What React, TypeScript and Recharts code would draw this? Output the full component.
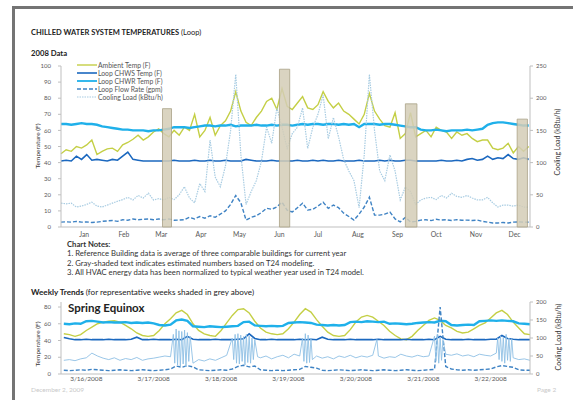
import { LineChart, Line, XAxis, YAxis, ReferenceArea } from "recharts";

const FONT = "Lato, 'Liberation Sans', Arial, sans-serif";

// 2008 loop data, every 4th day of the year
const YEAR_DAYS = [
  0, 4, 8, 12, 16, 20, 24, 28, 32, 36, 40, 44, 48, 52, 56, 60, 64, 68, 72, 76,
  80, 84, 88, 92, 96, 100, 104, 108, 112, 116, 120, 124, 128, 132, 136, 140, 144, 148, 152, 156,
  160, 164, 168, 172, 176, 180, 184, 188, 192, 196, 200, 204, 208, 212, 216, 220, 224, 228, 232, 236,
  240, 244, 248, 252, 256, 260, 264, 268, 272, 276, 280, 284, 288, 292, 296, 300, 304, 308, 312, 316,
  320, 324, 328, 332, 336, 340, 344, 348, 352, 356, 360, 364,
];
const AMBIENT_F = [
  45.5, 48, 47, 50, 49, 51, 54, 45, 47, 48.5,
  49, 47, 51, 52.5, 54.5, 57, 54, 56, 59, 61,
  58, 56, 60, 57, 62, 60, 70, 56, 60, 68,
  57, 63, 66, 72, 84, 72, 65, 63, 68, 72,
  78, 80, 73, 86, 75, 73, 77, 81, 74, 73,
  76, 84, 78, 74, 77, 72, 70, 67, 64, 70,
  83, 72, 67, 63, 62, 71, 55, 58, 71, 56,
  58, 60, 56, 62, 60, 59, 55, 59, 57, 58,
  55, 53, 54, 54, 49, 48, 49, 52, 46, 50,
  47, 50,
];
const CHWS_F = [
  41, 41.5, 41, 44, 42, 45, 41.5, 42, 41.5, 41,
  42, 41.5, 44, 46.5, 42, 41.5, 41, 41, 41, 41,
  41, 41, 41.5, 41, 41, 41, 41.5, 41, 41, 41.5,
  41, 41, 41.5, 41, 41, 41, 42, 41.5, 41, 41,
  41, 41.5, 41, 41, 41, 41, 41.5, 41, 41, 41.5,
  41, 41.5, 41, 41, 41.5, 41, 41, 41, 41.5, 41,
  41, 41, 41.5, 41, 41.5, 41, 41, 41.5, 41.5, 41,
  41, 41, 41, 41, 41.5, 41, 41, 41.5, 41, 42,
  42.5, 41.5, 42, 44, 42, 43, 42.5, 45, 42.5, 42,
  43, 42,
];
const CHWR_F = [
  64, 64, 63.5, 64, 64.5, 64, 64, 63.5, 62.5, 62,
  61.5, 61, 60.5, 60.5, 60, 60, 60, 59.5, 60, 60,
  60.5, 61, 62, 62, 62, 61.5, 62, 62.5, 63, 63,
  62.5, 63, 63, 63.5, 62.5, 63, 63, 63, 63.5, 63,
  63, 63.5, 63, 63.5, 63.5, 63, 63.5, 64, 63.5, 64,
  64, 63.5, 64, 64, 63.5, 64, 63.5, 64, 62, 64,
  64, 64, 63.5, 64, 64, 63.5, 63, 62.5, 62, 62,
  60.5, 60, 60, 60.5, 60, 59.5, 60, 60, 60, 60.5,
  60, 60.5, 61, 63.5, 64.5, 65, 65, 64.5, 64, 63.5,
  63, 63,
];
const FLOW_GPM = [
  3, 3.2, 3, 3.5, 3, 3.2, 2.8, 3, 3.5, 3.8,
  4, 3.5, 4.5, 4.2, 5, 4.5, 4.8, 5, 4.5, 5,
  4.5, 5, 4.2, 4.3, 4.5, 6, 5, 6.5, 5.5, 7,
  6, 8, 10, 14, 19.6, 15, 4.3, 6, 7, 9,
  11.6, 11, 12.5, 15.4, 10.5, 9.3, 12, 14.8, 10.5, 11,
  13, 15.4, 11.6, 13.6, 12, 8.6, 6.5, 4.3, 8, 12.4,
  18.5, 7.4, 7.4, 8, 9.3, 5, 3.2, 6, 3.2, 3.5,
  4.3, 4.5, 4, 4.8, 4.3, 4.5, 4, 4.6, 4.2, 4.3,
  4, 4.3, 3.5, 3, 2.5, 2.5, 2.8, 2.5, 3, 3.2,
  3, 3,
];
const LOAD_KBTU = [
  37, 36, 37, 31, 32.5, 35, 38.5, 32.5, 31, 34,
  37, 40, 42.5, 46, 42, 49, 45, 52.5, 42, 44,
  42, 46, 42.5, 50, 62.5, 45, 37.5, 67.5, 55, 135,
  77.5, 62.5, 95, 150, 237, 112, 35, 55, 72, 102,
  155, 130, 185, 155, 122, 145, 155, 185, 122, 155,
  175, 205, 137, 170, 140, 105, 87, 72, 30, 112,
  237, 150, 87, 72, 112, 87, 42, 62, 55, 35,
  42, 45, 46, 42.5, 49, 45, 52.5, 47.5, 46, 49,
  45, 42, 42, 46, 37.5, 31, 34, 34, 32.5, 34,
  31, 31,
];

const MONTHS = ["Jan", "Feb", "Mar", "Apr", "May", "Jun", "Jul", "Aug", "Sep", "Oct", "Nov", "Dec"];
const MONTH_TICK_DAYS = [18, 49, 78, 109, 139, 170, 200, 231, 262, 292, 323, 353];

// representative weeks (shaded grey)
const WEEK_START = [79, 170, 268, 355];
const WEEK_END = [86, 178, 277, 363];
const WEEK_TOP = [73.5, 98, 76.5, 67];

// spring equinox week, hours from 3/16/2008 00:00
const WEEK_HOURS = [
  -8, -6, -4, -2, 0, 2, 4, 6, 8, 10, 12, 14, 16, 18, 20, 22, 24, 26, 28, 30,
  32, 34, 36, 38, 40, 42, 44, 46, 48, 50, 52, 54, 56, 58, 60, 62, 64, 66, 68, 70,
  72, 74, 76, 78, 80, 82, 84, 86, 88, 90, 92, 94, 96, 98, 100, 102, 104, 106, 108, 110,
  112, 114, 116, 118, 120, 122, 124, 126, 128, 130, 132, 134, 136, 138, 140, 142, 144, 146, 148, 150,
  152, 154, 156, 158,
];
const WK_AMBIENT = [
  48, 47, 45, 47, 52, 56, 60, 62, 63, 63.6,
  62, 58, 54, 49, 46, 45, 46, 52, 60, 66,
  73, 76, 71, 60, 52, 48, 46, 45, 52, 61,
  70, 77, 78, 73, 63, 55, 50, 48, 47, 48,
  54, 62, 71, 78, 74, 65, 57, 50, 46, 45,
  46, 53, 62, 68, 70, 68, 63, 58, 51, 46,
  42, 41, 45, 52, 58, 64, 67, 64, 58, 55,
  51, 49, 50, 54, 58, 61, 67, 73, 76, 71,
  62, 55, 48, 47,
];
const WK_CHWR = [
  60, 59.5, 60.5, 60,
  63, 63.5, 62.5, 61.5, 62, 61.5,
  61.5, 62, 61, 61.5, 61, 61.5, 60.5,
  58.5, 58, 59,
  64, 65, 63.5,
  57, 56.5, 56, 57, 56.5, 56, 56.5, 57, 57.5,
  62, 62.5,
  58, 57.5, 57, 57.5, 57, 57.5,
  61, 61.5, 62, 61.5, 61,
  59, 58.5, 58, 58.5, 58, 58.5,
  62, 62.5, 62, 63, 62.5, 62, 62.5,
  60, 60.5, 60, 59.5, 60,
  61, 61.5, 62, 61.5,
  63.5, 63,
  58.5, 58, 58.5, 59, 58.5,
  63, 63.5, 64, 63.5, 64, 63.5, 63,
  60.5, 60, 59.5,
];
const WK_CHWS = [
  43.5, 42, 41, 41, 41.5, 41, 41, 41, 41.5, 41,
  41, 41, 41.5, 44, 41, 41, 41.5, 41, 41, 41,
  41.5, 41, 45, 41.5, 41, 41, 41, 41.5, 41, 41,
  41, 41.5, 42, 48, 42.5, 41, 41, 41.5, 41, 41,
  41, 41, 41.5, 41, 41.5, 41, 44, 41.5, 41, 41,
  41, 41.5, 41, 41, 41, 41, 41.5, 41, 41, 41,
  41, 41.5, 41, 41, 41, 41.5, 41, 45, 41.5, 41,
  41, 41, 41.5, 41, 41, 41, 41.5, 41.5, 46, 42.5,
  41.5, 41, 41, 41,
];
const WK_FLOW = [
  4.5, 4, 4.5, 5, 4.5, 5.5, 5, 4.5, 4, 4.5, 5, 4.5, 4, 4.5, 5, 4.5, 4, 4.5, 5, 6,
  9.5, 8, 10, 8.5,
  5, 4.5, 4, 4.5, 5, 4.5, 6,
  9, 10.5, 8.5, 9.5,
  5, 4.5, 4, 4.5, 4, 4.5, 5, 5.5,
  9, 8, 7,
  4.5, 4, 4.5, 5, 4.5, 4, 4.5, 5, 4.5, 4, 4.5, 5, 4.5, 4, 4.5, 5, 4.5, 4, 4.5, 5, 5.5,
  80, 9,
  6, 5, 4.5, 5, 4.5, 5, 5.5, 6,
  8.5, 10, 9, 8,
  5, 4.5, 4.5,
];
const WK_LOAD_HOURS = [
  -8, -6, -4, -2, 0, 2, 4, 6, 8, 10, 12, 14, 16, 18, 20, 22, 24, 26, 28, 30,
  31, 31.5, 32, 32.5, 33, 33.5, 34, 34.5, 35, 35.5, 36, 36.5, 37,
  38, 40, 42, 44, 46, 48, 50,
  52, 52.5, 53, 53.5, 54, 54.5, 55, 55.5, 56, 56.5, 57, 57.5, 58, 58.5, 59, 59.5, 60,
  61, 62, 64, 66, 68, 70, 72, 74, 76,
  77, 77.5, 78, 78.5, 79, 79.5, 80, 80.5,
  82, 84, 86, 88, 90, 92, 94, 96, 98, 100, 102, 103.5, 104,
  106, 108, 110, 112, 114, 116, 118, 120, 122,
  124, 124.5, 125, 125.5, 126, 126.5, 127,
  128, 130, 132, 134, 136, 138, 140, 142, 144, 146,
  146.5, 147, 147.5, 148, 148.5, 149, 149.5, 150, 150.5, 151, 151.5,
  152, 154, 156, 158,
];
const WK_LOAD = [
  38, 40, 37, 42, 45, 58, 50, 44, 40, 45, 38, 43, 40, 46, 38, 42, 44, 47, 50, 48,
  110, 30, 125, 25, 120, 22, 118, 28, 122, 20, 115, 35, 105,
  30, 40, 36, 42, 38, 45, 52,
  100, 40, 110, 30, 112, 28, 108, 35, 104, 25, 110, 32, 105, 30, 100, 40, 95,
  48, 45, 50, 42, 48, 52, 45, 55, 50,
  100, 35, 112, 30, 108, 32, 100, 40,
  50, 44, 48, 42, 50, 46, 52, 45, 50, 47, 52, 96, 50,
  44, 48, 46, 55, 50, 47, 52, 48, 50,
  105, 35, 110, 30, 100, 38, 95,
  55, 52, 56, 50, 53, 48, 55, 52, 50, 58,
  100, 40, 105, 35, 102, 30, 110, 38, 100, 35, 98,
  45, 40, 42, 38,
];
const DAY_LABELS = ["3/16/2008", "3/17/2008", "3/18/2008", "3/19/2008", "3/20/2008", "3/21/2008", "3/22/2008"];
const DAY_TICK_HOURS = [0, 24, 48, 72, 96, 120, 144];

const SERIES = [
  { key: "ambient", name: "Ambient Temp (F)", color: "#c4cf45", width: 1.4, dash: undefined, axis: "left" },
  { key: "chws", name: "Loop CHWS Temp (F)", color: "#1b68bf", width: 1.6, dash: undefined, axis: "left" },
  { key: "chwr", name: "Loop CHWR Temp (F)", color: "#1fb0ea", width: 2.4, dash: undefined, axis: "left" },
  { key: "flow", name: "Loop Flow Rate (gpm)", color: "#3f83c4", width: 1.4, dash: "4 2", axis: "left" },
  { key: "load", name: "Cooling Load (kBtu/h)", color: "#a8cce2", width: 1.2, dash: "1.5 1", axis: "right" },
];

const yearRows = YEAR_DAYS.map((day, i) => ({
  x: day,
  ambient: AMBIENT_F[i],
  chws: CHWS_F[i],
  chwr: CHWR_F[i],
  flow: FLOW_GPM[i],
  load: LOAD_KBTU[i],
}));

const weekMap = new Map<number, Record<string, number>>();
WEEK_HOURS.forEach((h, i) => {
  weekMap.set(h, { x: h, ambient: WK_AMBIENT[i], chws: WK_CHWS[i], chwr: WK_CHWR[i], flow: WK_FLOW[i] });
});
WK_LOAD_HOURS.forEach((h, i) => {
  const row = weekMap.get(h) ?? { x: h };
  row.load = WK_LOAD[i];
  weekMap.set(h, row);
});
const weekRows = [...weekMap.values()].sort((a, b) => a.x - b.x);

const tickStyle = { fontSize: 6, fill: "#595959", fontFamily: FONT };
const axisLine = { stroke: "#bfbfbf" };

const abs = (left: number, top: number, extra: React.CSSProperties = {}): React.CSSProperties => ({
  position: "absolute",
  left,
  top,
  fontFamily: FONT,
  whiteSpace: "nowrap",
  ...extra,
});

function VLabel({ x, y, text, size = 6.5 }: { x: number; y: number; text: string; size?: number }) {
  return (
    <div
      style={abs(x, y, {
        fontSize: size,
        color: "#333",
        transform: "translate(-50%, -50%) rotate(-90deg)",
      })}
    >
      {text}
    </div>
  );
}

function SeriesLines({ week }: { week?: boolean }) {
  return (
    <>
      {SERIES.map((s) => (
        <Line
          key={s.key}
          yAxisId={s.axis}
          type="linear"
          dataKey={s.key}
          stroke={week && s.key === "load" ? "#8fc0e4" : s.color}
          strokeWidth={week && s.key === "load" ? 0.9 : s.width}
          strokeDasharray={week && s.key === "load" ? undefined : s.dash}
          dot={false}
          connectNulls
          isAnimationActive={false}
        />
      ))}
    </>
  );
}

export default function App() {
  return (
    <div style={{ position: "absolute", left: 0, top: 0, width: 573, height: 400, background: "#fff", overflow: "hidden" }}>
      {/* page frame */}
      <div style={{ position: "absolute", left: 12, top: 6, width: 570, height: 400, borderTop: "3px solid #747474", borderLeft: "3px solid #747474" }} />

      <div style={abs(31, 28, { fontSize: 7.5, color: "#222" })}>
        <b>CHILLED WATER SYSTEM TEMPERATURES</b> (Loop)
      </div>
      <div style={abs(31, 48, { fontSize: 7.7, fontWeight: 700, color: "#222" })}>2008 Data</div>

      <div style={{ position: "absolute", left: 0, top: 55 }}>
        <LineChart width={573} height={190} data={yearRows} margin={{ top: 11, right: 21, bottom: 4, left: 39 }}>
          <XAxis
            dataKey="x"
            type="number"
            domain={[0, 365]}
            ticks={MONTH_TICK_DAYS}
            tickFormatter={(v) => MONTHS[MONTH_TICK_DAYS.indexOf(v)]}
            tick={{ ...tickStyle, fontSize: 6.8 }}
            axisLine={axisLine}
            tickLine={false}
            tickSize={3}
            tickMargin={2}
            height={14}
          />
          <YAxis
            yAxisId="left"
            domain={[0, 100]}
            ticks={[0, 10, 20, 30, 40, 50, 60, 70, 80, 90, 100]}
            tick={tickStyle}
            axisLine={axisLine}
            tickLine={axisLine}
            tickSize={3}
            tickMargin={7}
            width={22}
          />
          <YAxis
            yAxisId="right"
            orientation="right"
            domain={[0, 250]}
            ticks={[0, 50, 100, 150, 200, 250]}
            tick={tickStyle}
            axisLine={axisLine}
            tickLine={axisLine}
            tickSize={3}
            tickMargin={3}
            width={22}
          />
          <SeriesLines />
          {WEEK_START.map((x1, i) => (
            <ReferenceArea
              key={i}
              yAxisId="left"
              x1={x1}
              x2={WEEK_END[i]}
              y1={0}
              y2={WEEK_TOP[i]}
              fill="#d4cdb6"
              fillOpacity={0.85}
              stroke="#aaa186"
              strokeWidth={0.8}
              zIndex={500}
            />
          ))}
        </LineChart>
      </div>

      {/* legend */}
      <div style={{ position: "absolute", left: 77, top: 61 }}>
        {SERIES.map((s) => (
          <div key={s.key} style={{ display: "flex", alignItems: "center", height: 8 }}>
            <svg width={20} height={6} style={{ display: "block" }}>
              <line x1={0} y1={3} x2={20} y2={3} stroke={s.color} strokeWidth={Math.min(s.width, 1.8)} strokeDasharray={s.dash} />
            </svg>
            <span style={{ fontFamily: FONT, fontSize: 6.8, color: "#555", marginLeft: 1, whiteSpace: "nowrap", lineHeight: "8px" }}>{s.name}</span>
          </div>
        ))}
      </div>

      <VLabel x={37} y={146} text="Temperature (F)" />
      <VLabel x={557} y={142} text="Cooling Load (kBtu/h)" size={7} />

      {/* notes */}
      <div style={abs(67, 240, { fontSize: 7.7, color: "#333", lineHeight: "9.4px" })}>
        <b>Chart Notes:</b>
        <div>1. Reference Building data is average of three comparable buildings for current year</div>
        <div>2. Gray-shaded text indicates estimated numbers based on T24 modeling.</div>
        <div>3. All HVAC energy data has been normalized to typical weather year used in T24 model.</div>
      </div>

      <div style={abs(31, 287, { fontSize: 8.1, color: "#222" })}>
        <b>Weekly Trends</b> (for representative weeks shaded in grey above)
      </div>

      <div style={{ position: "absolute", left: 0, top: 292 }}>
        <LineChart width={573} height={92} data={weekRows} margin={{ top: 10, right: 21, bottom: 0, left: 39 }}>
          <XAxis
            dataKey="x"
            type="number"
            domain={[-9, 158]}
            ticks={DAY_TICK_HOURS}
            tickFormatter={(v) => DAY_LABELS[DAY_TICK_HOURS.indexOf(v)]}
            tick={{ ...tickStyle, fontSize: 6.5 }}
            axisLine={axisLine}
            tickLine={false}
            tickSize={1}
            tickMargin={1}
            height={10}
          />
          <YAxis
            yAxisId="left"
            domain={[0, 86]}
            ticks={[0, 20, 40, 60, 80]}
            tick={tickStyle}
            axisLine={axisLine}
            tickLine={axisLine}
            tickSize={3}
            tickMargin={7}
            width={22}
          />
          <YAxis
            yAxisId="right"
            orientation="right"
            domain={[0, 200]}
            ticks={[0, 50, 100, 150, 200]}
            tick={tickStyle}
            axisLine={axisLine}
            tickLine={axisLine}
            tickSize={3}
            tickMargin={3}
            width={22}
          />
          <SeriesLines week />
        </LineChart>
      </div>

      <div style={abs(68, 301, { fontSize: 11.5, fontWeight: 700, color: "#222" })}>Spring Equinox</div>
      <VLabel x={37} y={344} text="Temperature (F)" />
      <VLabel x={558} y={337} text="Cooling Load (kBtu/h)" size={7} />

      <div style={abs(31, 386, { fontSize: 6.5, color: "#c9c9c9" })}>December 2, 2009</div>
      <div style={abs(537, 386, { fontSize: 6.5, color: "#c9c9c9" })}>Page 2</div>
    </div>
  );
}
